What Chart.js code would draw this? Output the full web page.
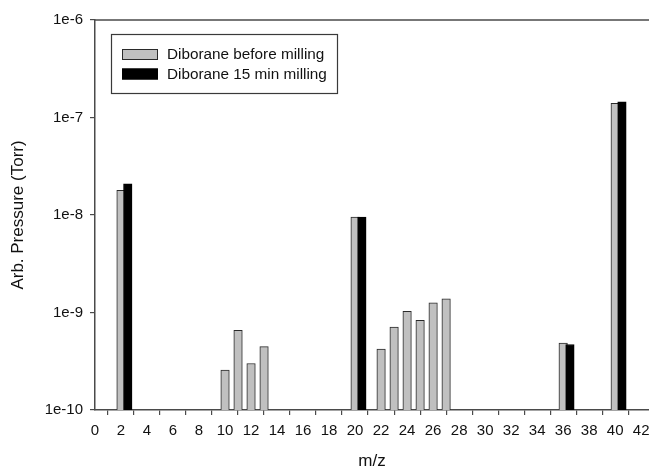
<!DOCTYPE html>
<html>
<head>
<meta charset="utf-8">
<script src="https://cdn.jsdelivr.net/npm/chart.js@4/dist/chart.umd.min.js"></script>
<style>
  html, body { margin: 0; padding: 0; background: #ffffff; }
  #wrap { width: 649px; height: 473px; position: relative; }
</style>
</head>
<body>
<div id="wrap"><canvas id="c" width="649" height="473"></canvas></div>
<script>
// ---- data ----
const seriesNames = ["Diborane before milling", "Diborane 15 min milling"];
const mzBefore = [2, 10, 11, 12, 13, 20, 22, 23, 24, 25, 26, 27, 36, 40];
const pressureBefore = [1.79e-8, 2.56e-10, 6.57e-10, 3.0e-10, 4.46e-10, 9.53e-9, 4.21e-10, 7.1e-10, 1.03e-9, 8.3e-10, 1.26e-9, 1.38e-9, 4.86e-10, 1.40e-7];
const mzMilled = [2, 20, 36, 40];
const pressureMilled = [2.09e-8, 9.53e-9, 4.7e-10, 1.45e-7];
const xTicks = [0, 2, 4, 6, 8, 10, 12, 14, 16, 18, 20, 22, 24, 26, 28, 30, 32, 34, 36, 38, 40, 42];
const yTicks = [1e-10, 1e-9, 1e-8, 1e-7, 1e-6];
const yTickLabels = ["1e-10", "1e-9", "1e-8", "1e-7", "1e-6"];

// ---- style ----
const FONT = "'Liberation Sans', Arial, sans-serif";
const AXIS_COLOR = '#4a4a4a';
const milledShift = 0.52; // drawing offset of the second bar beside the first

const framePlugin = {
  id: 'frame',
  afterDraw(chart) {
    const { ctx, chartArea } = chart;
    ctx.save();
    ctx.strokeStyle = AXIS_COLOR;
    ctx.lineWidth = 1.5;
    ctx.beginPath();
    ctx.moveTo(chartArea.left, chartArea.top);
    ctx.lineTo(chartArea.right, chartArea.top);
    ctx.stroke();

    // legend box
    const bx = 111, by = 34, bw = 226, bh = 59;
    ctx.lineWidth = 1.2;
    ctx.strokeStyle = '#3a3a3a';
    ctx.fillStyle = '#ffffff';
    ctx.fillRect(bx, by, bw, bh);
    ctx.strokeRect(bx + 0.5, by + 0.5, bw, bh);
    const rows = [54.5, 74];
    chart.data.datasets.forEach((ds, i) => {
      const y = rows[i];
      ctx.fillStyle = ds.backgroundColor;
      ctx.fillRect(122, y - 5.5, 36, 11);
      ctx.strokeStyle = ds.borderColor;
      ctx.lineWidth = 1;
      ctx.strokeRect(122.5, y - 5, 35, 10);
      ctx.fillStyle = '#111111';
      ctx.font = '15.3px ' + FONT;
      ctx.textBaseline = 'middle';
      ctx.textAlign = 'left';
      ctx.fillText(ds.label, 167, y + 0.5);
    });
    ctx.restore();
  }
};

new Chart(document.getElementById('c'), {
  type: 'bar',
  data: {
    datasets: [
      {
        label: seriesNames[0],
        data: mzBefore.map((m, i) => ({ x: m, y: pressureBefore[i] })),
        backgroundColor: '#c0c0c0',
        borderColor: '#2a2a2a',
        borderWidth: 1,
        barThickness: 8.5,
        order: 1
      },
      {
        label: seriesNames[1],
        data: mzMilled.map((m, i) => ({ x: m + milledShift, y: pressureMilled[i] })),
        backgroundColor: '#000000',
        borderColor: '#000000',
        borderWidth: 1,
        barThickness: 8.5,
        order: 0
      }
    ]
  },
  options: {
    responsive: false,
    animation: false,
    devicePixelRatio: 1,
    layout: { padding: { left: 0, right: 0, top: 20, bottom: 0 } },
    datasets: { bar: { grouped: false } },
    plugins: { legend: { display: false }, tooltip: { enabled: false } },
    scales: {
      x: {
        type: 'linear',
        min: 0,
        max: 42.6,
        offset: false,
        afterBuildTicks: (s) => { s.ticks = xTicks.map(v => ({ value: v })); },
        afterFit: (s) => { s.height = 63; s.paddingRight = 0; s.paddingLeft = 0; },
        grid: { display: true, drawOnChartArea: false, drawTicks: true, tickLength: 5, color: AXIS_COLOR, lineWidth: 1.2 },
        border: { display: true, color: AXIS_COLOR, width: 1.5 },
        ticks: { autoSkip: false, maxRotation: 0, padding: 7, color: '#111', font: { family: FONT, size: 15 },
                 callback: (v) => String(v) },
        title: { display: true, text: 'm/z', color: '#111', font: { family: FONT, size: 17 }, padding: { top: 0, bottom: 1 } }
      },
      y: {
        type: 'logarithmic',
        min: 1e-10,
        max: 1e-6,
        afterBuildTicks: (s) => { s.ticks = yTicks.map(v => ({ value: v })); },
        afterFit: (s) => { s.width = 95; },
        grid: { display: true, drawOnChartArea: false, drawTicks: true, tickLength: 5, color: AXIS_COLOR, lineWidth: 1.2 },
        border: { display: true, color: AXIS_COLOR, width: 1.5 },
        ticks: { autoSkip: false, padding: 7, color: '#111', font: { family: FONT, size: 15 },
                 callback: (v) => { const k = yTicks.findIndex(t => Math.abs(Math.log10(t) - Math.log10(v)) < 1e-6); return k >= 0 ? yTickLabels[k] : ''; } },
        title: { display: true, text: 'Arb. Pressure (Torr)', color: '#111', font: { family: FONT, size: 17 }, padding: { top: 8, bottom: 0 } }
      }
    }
  },
  plugins: [framePlugin]
});
</script>
</body>
</html>
